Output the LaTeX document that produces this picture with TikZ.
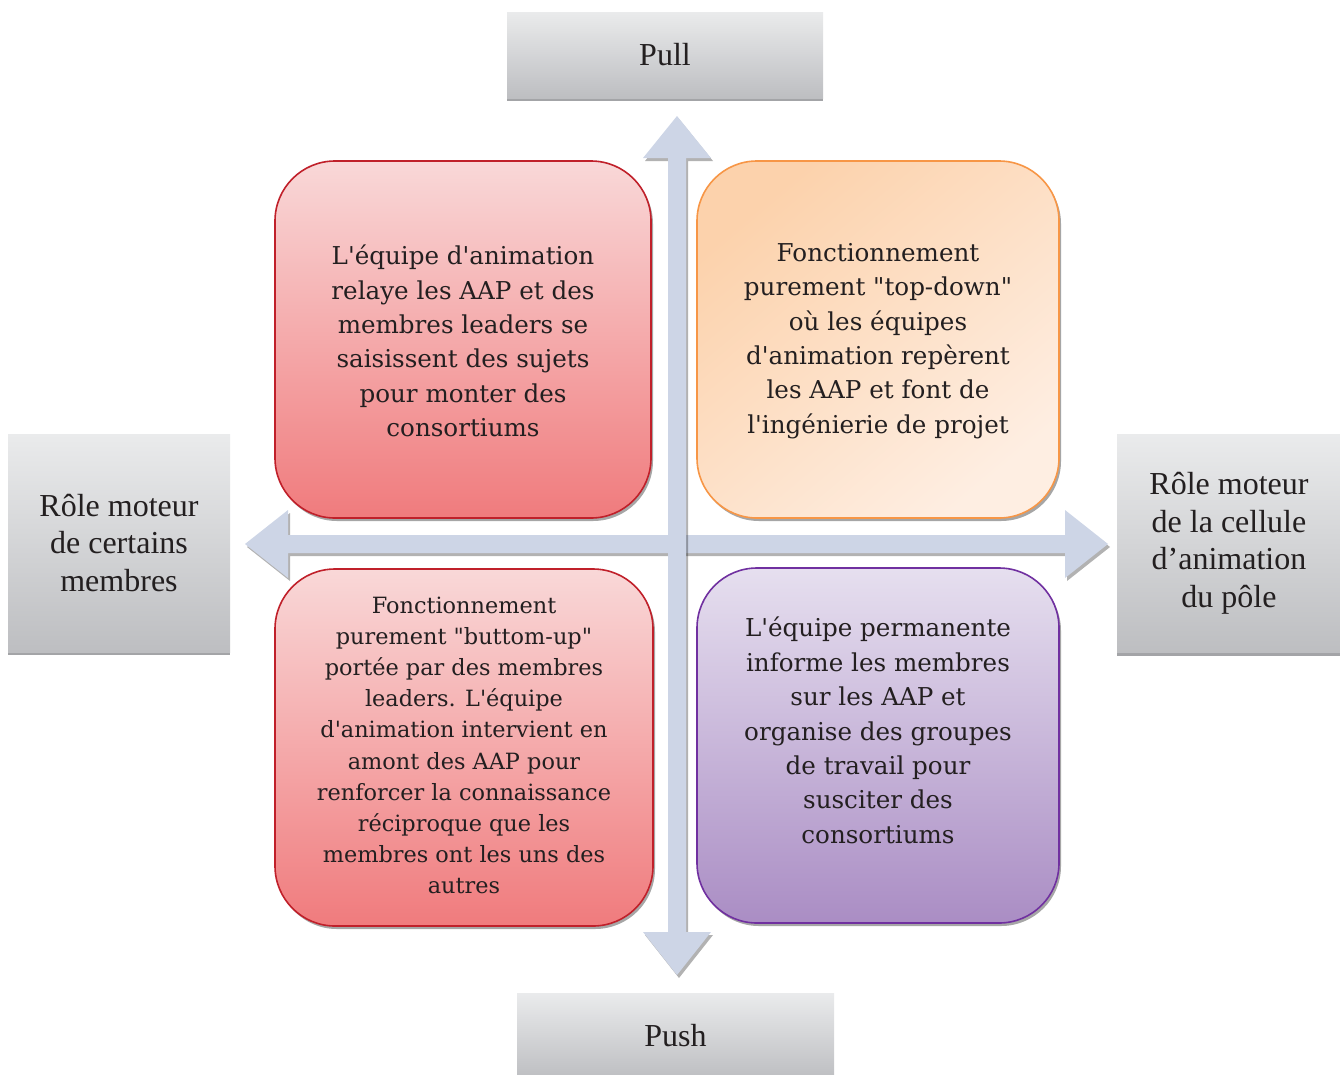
\documentclass[tikz,border=0pt]{standalone}
\usepackage{fontspec}
\setmainfont{Liberation Serif}
\newfontfamily\boxfont{DejaVu Serif}
\usetikzlibrary{shadows}
\definecolor{arrowc}{HTML}{CDD5E6}
\definecolor{redtop}{HTML}{F9D8D8}
\definecolor{redbot}{HTML}{F07B7D}
\definecolor{redline}{HTML}{C0202A}
\definecolor{ortop}{HTML}{FCD2AC}
\definecolor{orbot}{HTML}{FEEEE2}
\definecolor{orline}{HTML}{F79646}
\definecolor{putop}{HTML}{E6DFEF}
\definecolor{pubot}{HTML}{AA8DC4}
\definecolor{puline}{HTML}{7030A0}
\definecolor{graytop}{HTML}{EAEBEC}
\definecolor{graybot}{HTML}{BDBEC1}
\definecolor{grayshadow}{HTML}{A3A4A7}
\definecolor{txt}{HTML}{231F20}
\tikzset{
  labelbox/.style={rectangle, inner sep=0pt, top color=graytop, bottom color=graybot,
    drop shadow={shadow xshift=0pt, shadow yshift=-3pt, fill=grayshadow, opacity=1},
    text=txt, align=center, font=\fontsize{32}{37.5}\selectfont},
  quad/.style={rectangle, rounded corners=60pt, line width=1.6pt, inner sep=0pt,
    drop shadow={shadow xshift=2pt, shadow yshift=-3pt, fill=black, opacity=0.35}},
  quadtext/.style={text=txt, align=center, inner sep=0pt, font=\boxfont\fontsize{24.6}{34.4}\selectfont},
  arrowshape/.style={fill=arrowc, drop shadow={shadow xshift=2pt, shadow yshift=-3pt, fill=black, opacity=0.3}}
}
\begin{document}
\begin{tikzpicture}[x=1pt,y=-1pt]
\useasboundingbox (0,0) rectangle (1340,1074);
% arrows
\fill[arrowshape] (245,544) -- (288,510) -- (288,535) -- (1065,535) -- (1065,510) -- (1108,544)
  -- (1065,578) -- (1065,553) -- (288,553) -- (288,578) -- cycle;
\fill[arrowshape] (677,116) -- (711,158) -- (686,158) -- (686,932) -- (711,932) -- (677,975)
  -- (643,932) -- (668,932) -- (668,158) -- (643,158) -- cycle;
% label boxes
\node[labelbox, minimum width=316pt, minimum height=86pt] (pull) at (665,55) {Pull};
\node[labelbox, minimum width=317pt, minimum height=86pt] (push) at (675.5,1036) {Push};
\node[labelbox, minimum width=222pt, minimum height=218pt] (left) at (119,543) {Rôle moteur\\de certains\\membres};
\node[labelbox, minimum width=224pt, minimum height=218pt] (right) at (1229,543.5) {Rôle moteur\\de la cellule\\d’animation\\du pôle};
% quadrants
\node[quad, draw=redline, top color=redtop, bottom color=redbot, minimum width=376pt, minimum height=357pt] (tl) at (463,339.5) {};
\node[quad, draw=orline, top color=ortop, bottom color=orbot, shading angle=40, minimum width=362pt, minimum height=357pt] (tr) at (878,339.5) {};
\node[quad, draw=redline, top color=redtop, bottom color=redbot, minimum width=378pt, minimum height=357pt] (bl) at (464,747.5) {};
\node[quad, draw=puline, top color=putop, bottom color=pubot, minimum width=362pt, minimum height=355pt] (br) at (878,745.5) {};
\node[quadtext] (tltext) at (463,341) {L'équipe d'animation\\relaye les AAP et des\\membres leaders se\\saisissent des sujets\\pour monter des\\consortiums};
\node[quadtext] (trtext) at (878,341) {Fonctionnement\\purement "top-down"\\où les équipes\\d'animation repèrent\\les AAP et font de\\l'ingénierie de projet};
\node[quadtext, font=\boxfont\fontsize{22.4}{31.2}\selectfont] (bltext) at (464,745.5) {Fonctionnement\\purement "buttom-up"\\portée par des membres\\leaders. L'équipe\\d'animation intervient en\\amont des AAP pour\\renforcer la connaissance\\réciproque que les\\membres ont les uns des\\autres};
\node[quadtext] (brtext) at (878,730.5) {L'équipe permanente\\informe les membres\\sur les AAP et\\organise des groupes\\de travail pour\\susciter des\\consortiums};
\end{tikzpicture}
\end{document}
